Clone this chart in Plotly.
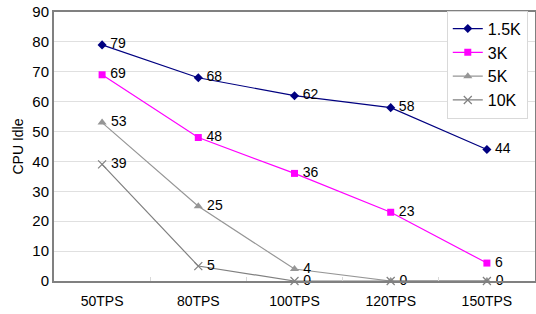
import plotly.graph_objects as go

categories = ["50TPS", "80TPS", "100TPS", "120TPS", "150TPS"]
series_names = ["1.5K", "3K", "5K", "10K"]
s_15k = [79, 68, 62, 58, 44]
s_3k = [69, 48, 36, 23, 6]
s_5k = [53, 25, 4, 0, 0]
s_10k = [39, 5, 0, 0, 0]
y_ticks = [0, 10, 20, 30, 40, 50, 60, 70, 80, 90]

styles = [
    dict(color="#000080", symbol="diamond", size=7),
    dict(color="#FF00FF", symbol="square", size=7),
    dict(color="#969696", symbol="triangle-up", size=8),
    dict(color="#808080", symbol="x-thin-open", size=8),
]

all_series = [s_15k, s_3k, s_5k, s_10k]
fig = go.Figure()
for idx, (name, vals, st) in enumerate(zip(series_names, all_series, styles)):
    marker = dict(symbol=st["symbol"], size=st["size"], color=st["color"])
    if st["symbol"] == "x-thin-open":
        marker["line"] = dict(color=st["color"], width=1.2)
    # labels that fall exactly on an earlier series' label are drawn once
    texts = []
    for j, v in enumerate(vals):
        dup = any(all_series[k][j] == v for k in range(idx))
        texts.append("" if dup else "\u2009" + str(v))
    fig.add_trace(go.Scatter(
        x=categories, y=vals, name=name, mode="lines+markers+text",
        line=dict(color=st["color"], width=1.2),
        marker=marker,
        text=texts, textposition="middle right",
        textfont=dict(family="Liberation Sans, Arial", size=14, color="black"),
        cliponaxis=False,
    ))

fig.update_layout(
    width=536, height=314,
    margin=dict(l=54, r=1, t=12, b=33, autoexpand=False),
    paper_bgcolor="white", plot_bgcolor="white",
    font=dict(family="Liberation Sans, Arial", size=14, color="black"),
    showlegend=True,
    legend=dict(x=0.985, xanchor="right", y=1.005, yanchor="top",
                bgcolor="white", bordercolor="#d9d9d9", borderwidth=1,
                font=dict(size=16), itemwidth=30),
    xaxis=dict(type="category", range=[-0.5, 4.5], showline=True, mirror=True,
               linecolor="#808080", linewidth=2, showgrid=False, ticks="inside",
               tickson="boundaries", ticklen=4, tickcolor="#d9d9d9",
               tickfont=dict(size=14), automargin=False, ticklabelstandoff=6),
    yaxis=dict(range=[0, 90], tickvals=y_ticks, showline=True, mirror=True,
               linecolor="#808080", linewidth=2, showgrid=True, gridcolor="#e0e0e0",
               gridwidth=1, zeroline=False, ticks="", tickfont=dict(size=15),
               automargin=False,
               title=dict(text="CPU Idle", font=dict(size=14), standoff=5)),
)

fig.write_html("out.html", config={"displayModeBar": False},
               post_script="document.body.style.margin='0';")
